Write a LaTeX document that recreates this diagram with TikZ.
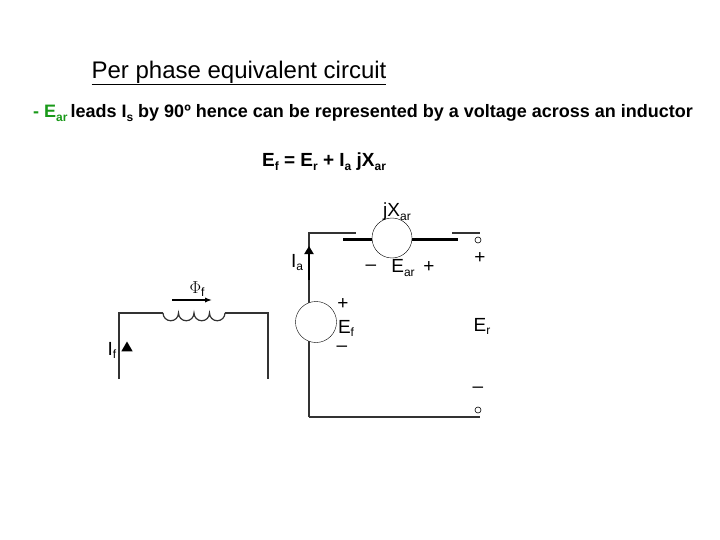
\documentclass[tikz,border=0pt]{standalone}
\usepackage{fontspec}
\setmainfont{Liberation Sans}
\usetikzlibrary{arrows.meta,shapes.geometric}
\newcommand{\sbs}[2][-4pt]{\raisebox{#1}{\fontsize{12}{13}\selectfont #2}}
\begin{document}
\begin{tikzpicture}[x=1pt,y=-1pt,
  wire/.style={line width=1.2pt,black!80},
  thick wire/.style={line width=3pt},
  lbl/.style={font=\fontsize{19}{21}\selectfont,inner sep=0pt},
  bl/.style={font=\bfseries\fontsize{18}{20}\selectfont,inner sep=0pt}]
\useasboundingbox (0,0) rectangle (720,540);
\node[font=\fontsize{24}{26}\selectfont,inner sep=0pt] (title) at (239,73) {\underline{Per phase equivalent circuit}};
\node[bl,anchor=west] (l2) at (33,113) {\textcolor[rgb]{0.1,0.6,0.1}{- E\sbs{ar}}\,leads I\sbs{s} by 90º hence can be represented by a voltage across an inductor};
\node[bl,font=\bfseries\fontsize{19}{21}\selectfont] (eq) at (324,162) {E\sbs{f} = E\sbs{r} + I\sbs{a} jX\sbs{ar}};
% field circuit
\coordinate (f1) at (119,379); \coordinate (f2) at (119,313);
\coordinate (c1) at (163,313); \coordinate (c2) at (225,313);
\coordinate (f3) at (268,313); \coordinate (f4) at (268,379);
\draw[wire] (f1) -- (f2) -- (c1);
\draw[wire] (c2) -- (f3) -- (f4);
\draw[wire] (c1) arc[start angle=180,end angle=0,radius=7.75]
  arc[start angle=180,end angle=0,radius=7.75]
  arc[start angle=180,end angle=0,radius=7.75]
  arc[start angle=180,end angle=0,radius=7.75];
\coordinate (fa1) at (172,300); \coordinate (fa2) at (212,300);
\draw[line width=1.5pt,-{Latex[length=7pt]}] (fa1) -- (fa2);
\node[lbl] (phi) at (197,289) {$\Phi$\sbs[-3pt]{f}};
\node[fill=black,regular polygon,regular polygon sides=3,inner sep=0pt,minimum size=13pt] (tri) at (127,348) {};
\node[lbl] (If) at (112,350) {I\sbs[-3pt]{f}};
% armature
\coordinate (a0) at (309,417); \coordinate (a1) at (309,233); \coordinate (a2) at (356,233);
\coordinate (t1) at (343,239); \coordinate (t2) at (458,239);
\coordinate (a3) at (452,233); \coordinate (a4) at (480,233);
\coordinate (b1) at (480,417);
\draw[wire] (a0) -- (a1) -- (a2);
\draw[wire] (a3) -- (a4);
\draw[wire] (a0) -- (b1);
\draw[thick wire] (t1) -- (t2);
\node[draw,circle,fill=white,minimum size=40pt,inner sep=0pt] (X) at (392,238) {};
\node[draw,circle,fill=white,minimum size=41pt,inner sep=0pt] (Ef) at (316,322) {};
\coordinate (ia1) at (309,280); \coordinate (ia2) at (309,246);
\draw[line width=1.8pt,-{Triangle[length=8pt,width=9pt]}] (ia1) -- (ia2);
\node[lbl] (Ia) at (297,263) {I\sbs[-3pt]{a}};
\node[draw,circle,inner sep=0pt,minimum size=6pt,line width=0.6pt] (o1) at (478,240) {};
\node[draw,circle,inner sep=0pt,minimum size=6pt,line width=0.6pt] (o2) at (478,410) {};
\node[lbl] (jx) at (397,212) {jX\sbs{ar}};
\node[lbl] (m1) at (371,268) {–};
\node[lbl] (Ear) at (403,268) {E\sbs{ar}};
\node[lbl] (p1) at (429,267) {+};
\node[lbl] (p2) at (480,258) {+};
\node[lbl] (Er) at (482,326) {E\sbs[-3pt]{r}};
\node[lbl] (m2) at (478,390) {–};
\node[lbl] (p3) at (343,304) {+};
\node[lbl] (Efl) at (346,328) {E\sbs[-3pt]{f}};
\node[lbl] (m3) at (342,349) {–};
\end{tikzpicture}
\end{document}
